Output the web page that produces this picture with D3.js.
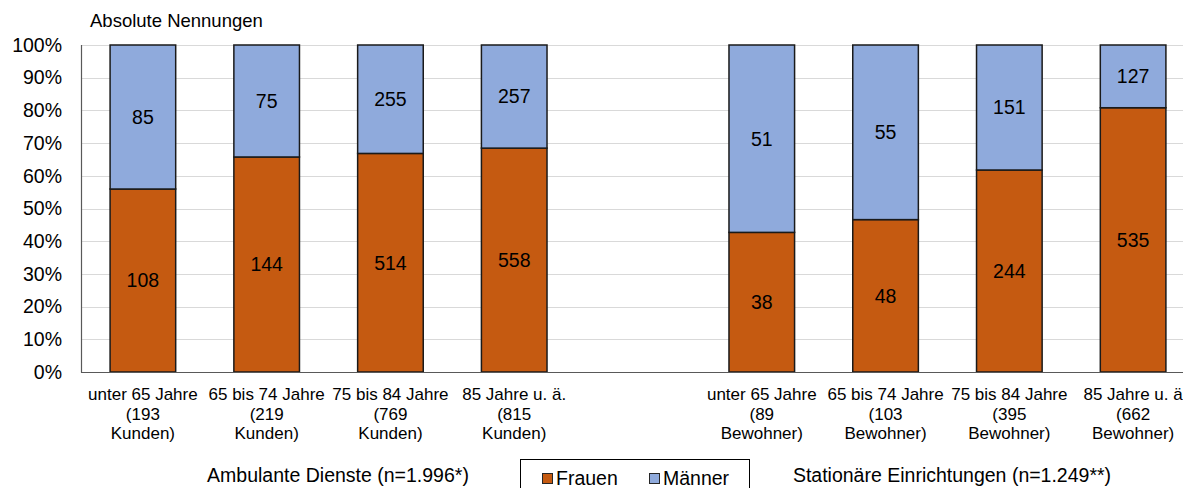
<!DOCTYPE html>
<html>
<head>
<meta charset="utf-8">
<script src="https://cdn.jsdelivr.net/npm/d3@7"></script>
<style>
  html, body { margin: 0; padding: 0; background: #fff; overflow: hidden; }
  svg { display: block; font-family: "Liberation Sans", Arial, sans-serif; }
</style>
</head>
<body>
<svg id="chart" width="1183" height="488"></svg>
<script>
// Age groups (three label lines each); "gap" separates the two care settings
const categories = ["a1", "a2", "a3", "a4", "gap", "s1", "s2", "s3", "s4"];
const labelLine1 = ["unter 65 Jahre", "65 bis 74 Jahre", "75 bis 84 Jahre", "85 Jahre u. ä.", "",
                    "unter 65 Jahre", "65 bis 74 Jahre", "75 bis 84 Jahre", "85 Jahre u. ä"];
const labelLine2 = ["(193", "(219", "(769", "(815", "", "(89", "(103", "(395", "(662"];
const labelLine3 = ["Kunden)", "Kunden)", "Kunden)", "Kunden)", "",
                    "Bewohner)", "Bewohner)", "Bewohner)", "Bewohner)"];

// Absolute counts per age group
const frauen = [108, 144, 514, 558, null, 38, 48, 244, 535];
const maenner = [85, 75, 255, 257, null, 51, 55, 151, 127];

const tickValues = [0, 0.1, 0.2, 0.3, 0.4, 0.5, 0.6, 0.7, 0.8, 0.9, 1];
const groupLabels = ["Ambulante Dienste (n=1.996*)", "Stationäre Einrichtungen (n=1.249**)"];
const seriesNames = ["Frauen", "Männer"];
const colors = { Frauen: "#C55A11", Männer: "#8FAADC" };

const svg = d3.select("#chart");

const x = d3.scaleBand().domain(categories).range([81, 1195]).paddingInner(0.47).paddingOuter(0.235);
const y = d3.scaleLinear().domain([0, 1]).range([372, 45]);

// Gridlines
svg.append("g").selectAll("line").data(tickValues.filter(d => d > 0)).join("line")
  .attr("x1", 81).attr("x2", 1183)
  .attr("y1", d => Math.round(y(d)) + 0.5).attr("y2", d => Math.round(y(d)) + 0.5)
  .attr("stroke", "#d9d9d9").attr("stroke-width", 1);

// Y axis labels
const yAxis = d3.axisLeft(y).tickValues(tickValues).tickFormat(d3.format(".0%")).tickSize(0).tickPadding(19);
const yg = svg.append("g").attr("transform", "translate(81,0)").call(yAxis);
yg.select(".domain").remove();
yg.selectAll("text").attr("font-size", 19.5).attr("fill", "#000")
  .attr("font-family", "Liberation Sans, Arial, sans-serif");

// Stacked shares
const rows = categories.map((c, i) => {
  if (frauen[i] == null) return null;
  const total = frauen[i] + maenner[i];
  return { c, f: frauen[i], m: maenner[i], pf: frauen[i] / total };
}).filter(Boolean);

const bars = svg.append("g");
rows.forEach(r => {
  const x0 = x(r.c), w = x.bandwidth();
  // Frauen (bottom)
  bars.append("rect").attr("x", x0).attr("width", w)
    .attr("y", y(r.pf)).attr("height", y(0) - y(r.pf))
    .attr("fill", colors.Frauen).attr("stroke", "#1a1a1a").attr("stroke-width", 1.5);
  // Männer (top)
  bars.append("rect").attr("x", x0).attr("width", w)
    .attr("y", y(1)).attr("height", y(r.pf) - y(1))
    .attr("fill", colors.Männer).attr("stroke", "#1a1a1a").attr("stroke-width", 1.5);
  bars.append("text").attr("x", x0 + w / 2).attr("y", (y(r.pf) + y(0)) / 2)
    .attr("dy", "0.35em").attr("text-anchor", "middle").attr("font-size", 19.5).text(r.f);
  bars.append("text").attr("x", x0 + w / 2).attr("y", (y(1) + y(r.pf)) / 2)
    .attr("dy", "0.35em").attr("text-anchor", "middle").attr("font-size", 19.5).text(r.m);
});

// Axis lines
svg.append("line").attr("x1", 81.5).attr("x2", 81.5).attr("y1", 45).attr("y2", 372.5)
  .attr("stroke", "#595959").attr("stroke-width", 1.2);
svg.append("line").attr("x1", 81).attr("x2", 1183).attr("y1", 372.5).attr("y2", 372.5)
  .attr("stroke", "#595959").attr("stroke-width", 1.2);

// Category labels
const cl = svg.append("g").attr("font-size", 17).attr("text-anchor", "middle");
categories.forEach((c, i) => {
  if (!labelLine1[i]) return;
  const cx = x(c) + x.bandwidth() / 2;
  const t = cl.append("text").attr("x", cx).attr("y", 400);
  t.append("tspan").attr("x", cx).attr("dy", 0).text(labelLine1[i]);
  t.append("tspan").attr("x", cx).attr("dy", 19.5).text(labelLine2[i]);
  t.append("tspan").attr("x", cx).attr("dy", 19.5).text(labelLine3[i]);
});

// Axis caption
svg.append("text").attr("x", 90).attr("y", 27).attr("font-size", 18.5).text("Absolute Nennungen");

// Group labels
svg.append("text").attr("x", 338).attr("y", 482).attr("text-anchor", "middle").attr("font-size", 19.5).text(groupLabels[0]);
svg.append("text").attr("x", 952).attr("y", 482).attr("text-anchor", "middle").attr("font-size", 19.5).text(groupLabels[1]);

// Legend
const lg = svg.append("g");
lg.append("rect").attr("x", 520.5).attr("y", 459.5).attr("width", 229).attr("height", 40)
  .attr("fill", "#fff").attr("stroke", "#000").attr("stroke-width", 1);
const legX = [542, 649];
seriesNames.forEach((s, i) => {
  lg.append("rect").attr("x", legX[i] + 0.5).attr("y", 473.5).attr("width", 10).attr("height", 10)
    .attr("fill", colors[s]).attr("stroke", "#262626").attr("stroke-width", 1);
  lg.append("text").attr("x", legX[i] + 14).attr("y", 485).attr("font-size", 19.5).text(s);
});
</script>
</body>
</html>
